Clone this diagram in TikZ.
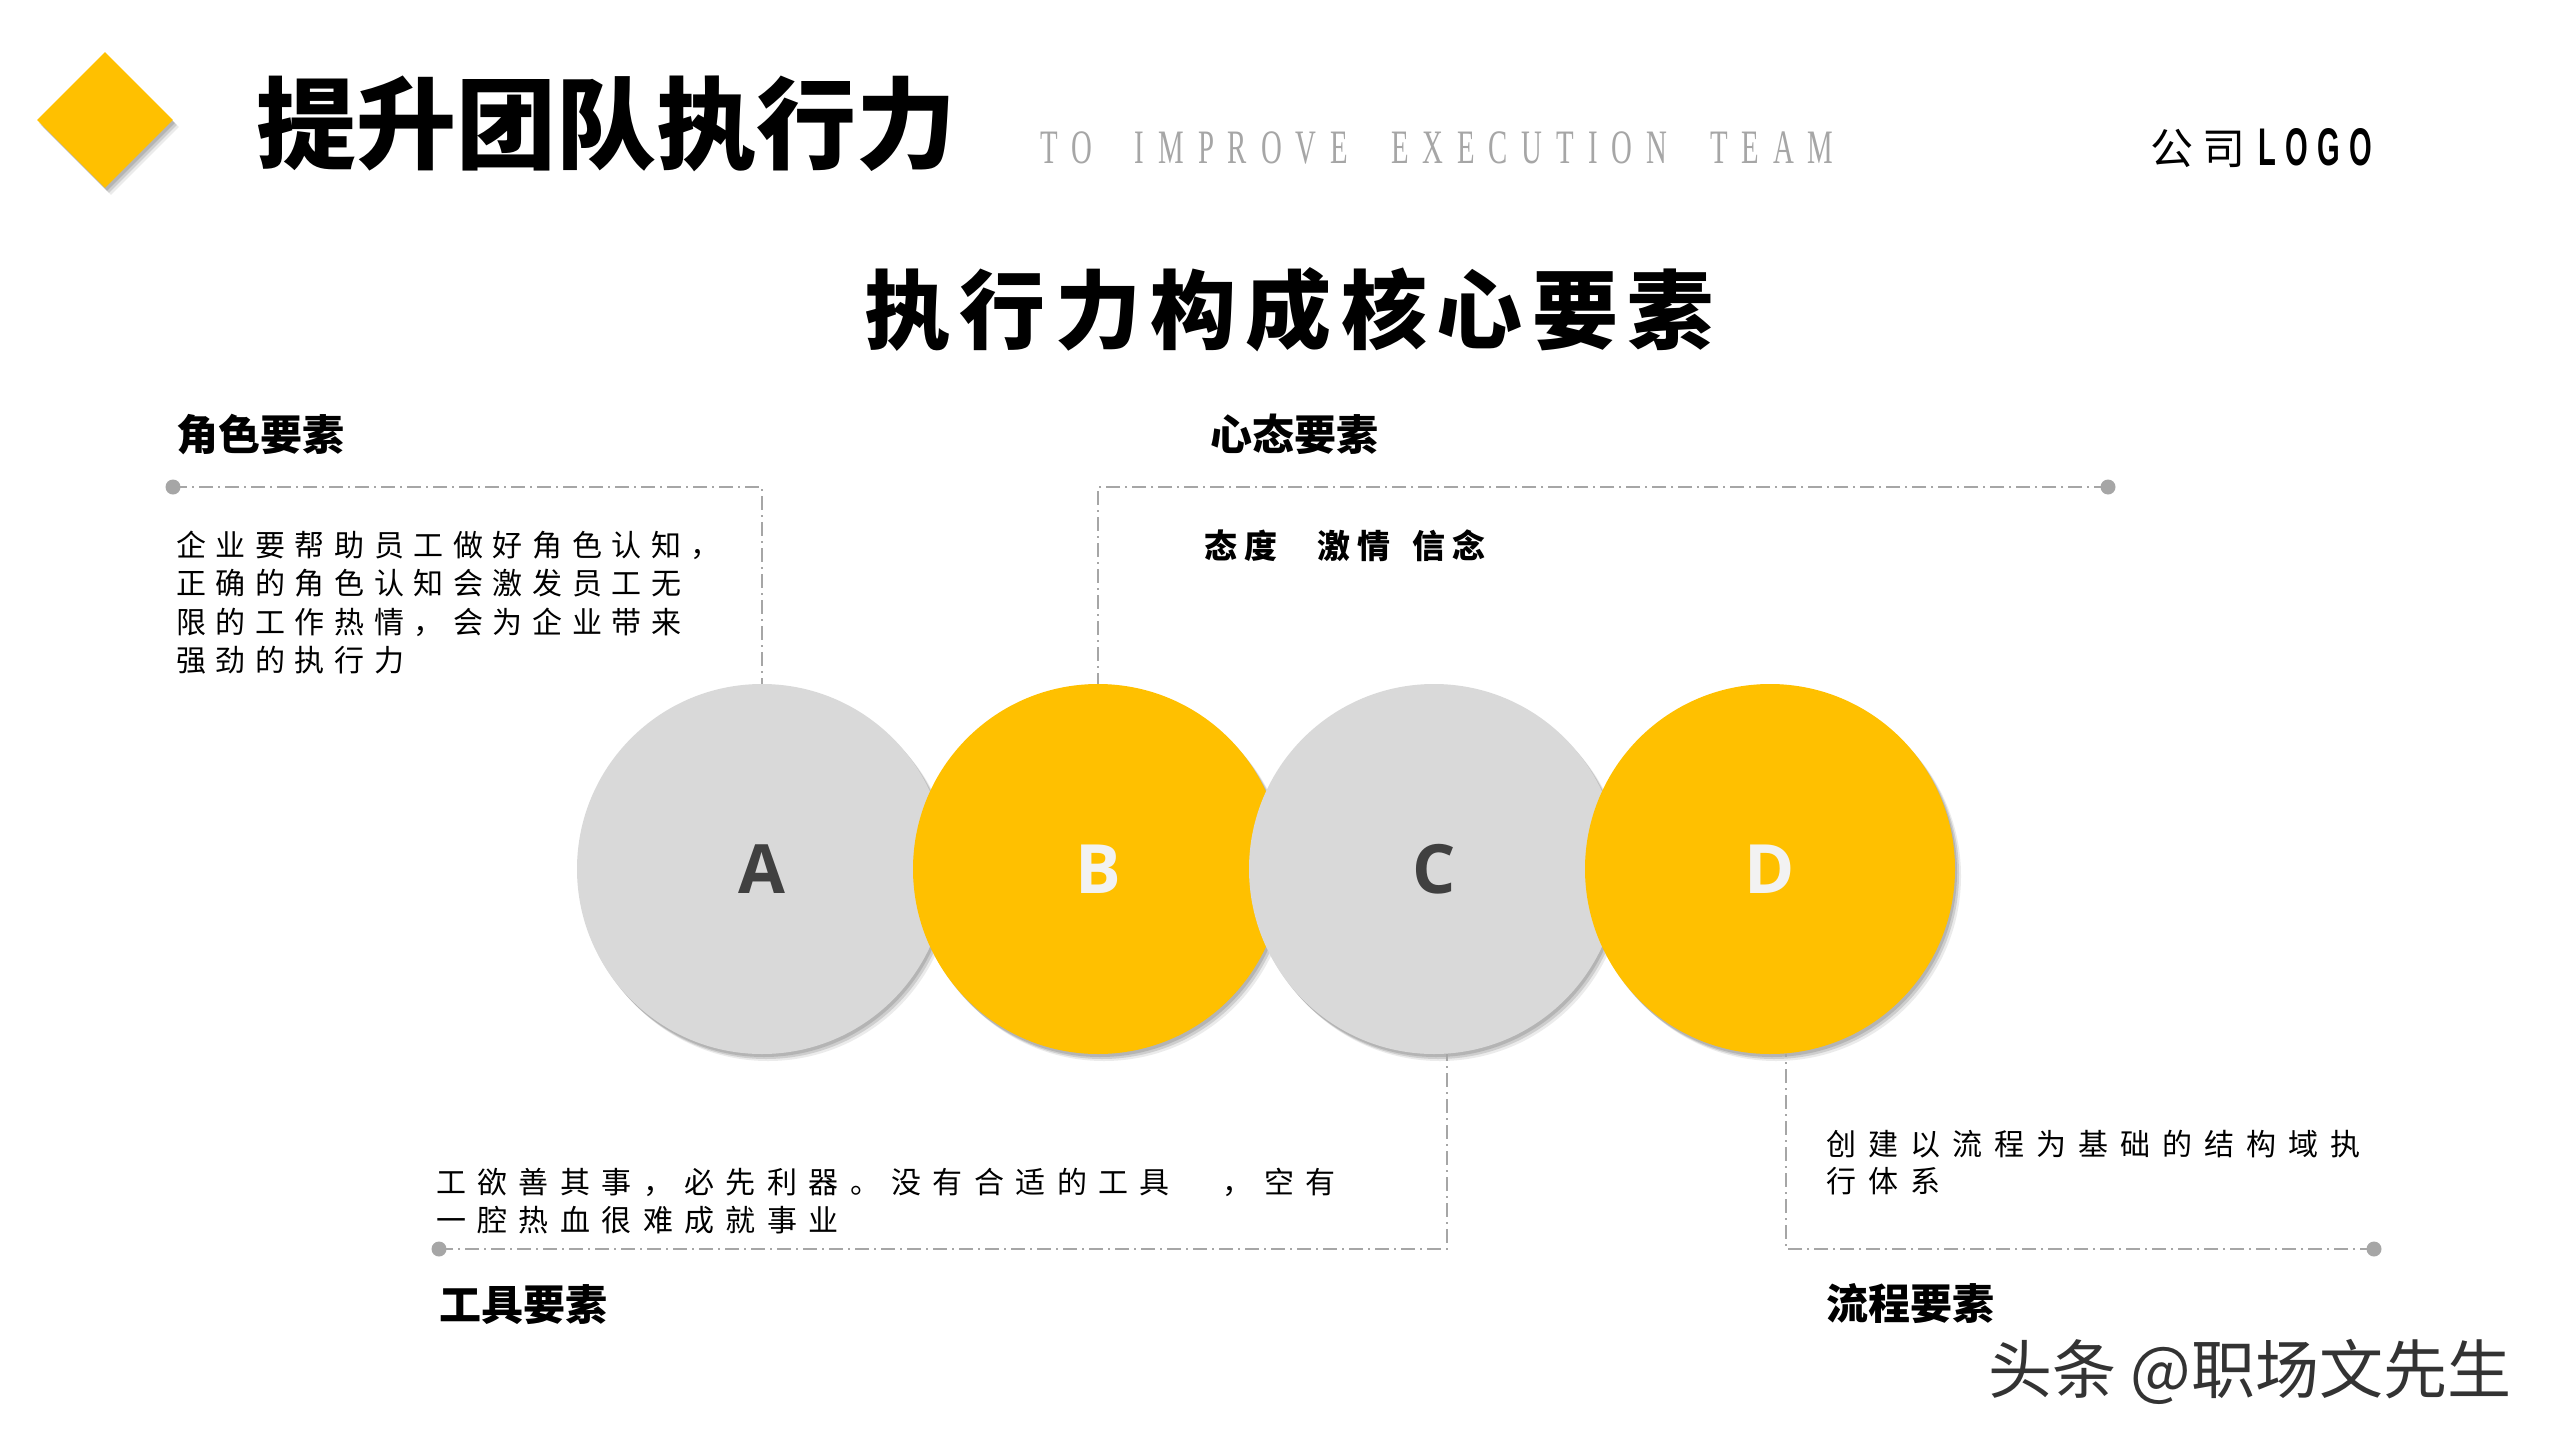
\documentclass[tikz,border=0pt]{standalone}
\usepackage{fontspec}
\usetikzlibrary{shapes.geometric,shadows}
\newfontfamily\cjk{Noto Sans CJK SC}
\newfontfamily\cjkA[LetterSpace=32]{Noto Sans CJK SC}
\newfontfamily\cjkB[LetterSpace=38]{Noto Sans CJK SC}
\newfontfamily\cjkC[LetterSpace=40]{Noto Sans CJK SC}
\newfontfamily\cjkT[LetterSpace=11]{Noto Sans CJK SC}
\newfontfamily\cjkS[LetterSpace=22]{Noto Sans CJK SC}
\newfontfamily\cjkL[LetterSpace=22]{Noto Sans CJK SC}
\newfontfamily\ensub[FakeStretch=0.6,LetterSpace=29]{Liberation Serif}
\newfontfamily\letterfont{Open Sans}
\newfontfamily\logofont[FakeStretch=0.55,LetterSpace=18]{Liberation Sans}
\definecolor{ygold}{HTML}{FFC000}
\definecolor{lgray}{HTML}{D9D9D9}
\definecolor{lineg}{HTML}{A6A6A6}
\definecolor{dtext}{HTML}{404040}
\definecolor{wtext}{HTML}{F2F2F2}
\definecolor{wmark}{HTML}{333333}
\begin{document}
\begin{tikzpicture}[x=1pt,y=-1pt,
  txt/.style={inner sep=0pt, anchor=base west, align=left, text width=700pt},
  line1/.style={inner sep=0pt, anchor=base west},
  softshadow/.style={
    drop shadow={shadow xshift=2pt, shadow yshift=-3pt, opacity=0.12, fill=black},
    drop shadow={shadow xshift=4pt, shadow yshift=-5pt, opacity=0.12, fill=black},
    drop shadow={shadow xshift=6pt, shadow yshift=-7pt, opacity=0.08, fill=black}},
  ball/.style={circle, minimum size=370pt, inner sep=0pt, softshadow},
  dline/.style={draw=lineg, line width=2pt, dash pattern=on 14pt off 5pt on 2pt off 5pt},
  enddot/.style={circle, fill=lineg, minimum size=15pt, inner sep=0pt},
  head/.style={txt, font=\cjk\bfseries\fontsize{42}{46}\selectfont},
  lettr/.style={font=\letterfont\bfseries\fontsize{68}{70}\selectfont}
]
\useasboundingbox[fill=white] (0,0) rectangle (2560,1440);

% header
\node[diamond, fill=ygold, minimum width=136pt, minimum height=136pt, inner sep=0pt, softshadow] (logo) at (105,120) {};
\node[line1, font=\cjk\bfseries\fontsize{100}{100}\selectfont] (title) at (256,161) {提升团队执行力};
\node[line1, text=lineg, font=\ensub\fontsize{48}{50}\selectfont] (subtitle) at (1040,163)
  {TO\hspace{43pt}IMPROVE\hspace{43pt}EXECUTION\hspace{43pt}TEAM};
\node[line1, font=\cjkL\fontsize{43}{44}\selectfont] (company) at (2150,164) {公司};
\node[line1, font=\logofont\bfseries\fontsize{53}{56}\selectfont] (logotext) at (2258,165) {LOGO};
\node[line1, font=\cjkT\bfseries\fontsize{86}{90}\selectfont] (main) at (864,342) {执行力构成核心要素};

% coordinates for dots
\coordinate (dotA) at (173,487);
\coordinate (dotB) at (2108,487);
\coordinate (dotC) at (439,1249);
\coordinate (dotD) at (2374,1249);

% balls
\node[ball, fill=lgray] (A) at (762,869) {};
\node[ball, fill=ygold] (B) at (1098,869) {};
\node[ball, fill=lgray] (C) at (1434,869) {};
\node[ball, fill=ygold] (D) at (1770,869) {};
\node[lettr, text=dtext] (la) at (A) {A};
\node[lettr, text=wtext] (lb) at (B) {B};
\node[lettr, text=dtext] (lc) at (C) {C};
\node[lettr, text=wtext] (ld) at (D) {D};

% connectors
\draw[dline] (dotA) -| (A.north);
\draw[dline] (dotB) -| (B.north);
\draw[dline] (dotC) -| (C.-86);
\draw[dline] (dotD) -| (D.-85);
\node[enddot] (eA) at (dotA) {};
\node[enddot] (eB) at (dotB) {};
\node[enddot] (eC) at (dotC) {};
\node[enddot] (eD) at (dotD) {};

% section texts
\node[head] (hA) at (176,450) {角色要素};
\node[head] (hB) at (1210,450) {心态要素};
\node[head] (hC) at (439,1320) {工具要素};
\node[head] (hD) at (1826,1319) {流程要素};

\node[txt, font=\cjkA\fontsize{30}{38.5}\selectfont] (tA) at (176,556)
  {企业要帮助员工做好角色认知，\\正确的角色认知会激发员工无\\限的工作热情，会为企业带来\\强劲的执行力};
\node[line1, font=\cjkS\bfseries\fontsize{33}{34}\selectfont] (tB) at (1204,558)
  {态度\hspace{40pt}激情\hspace{22pt}信念};
\node[txt, font=\cjkB\fontsize{30}{38}\selectfont] (tC) at (436,1193)
  {工欲善其事，必先利器。没有合适的工具　，空有\\一腔热血很难成就事业};
\node[txt, font=\cjkC\fontsize{30}{37.5}\selectfont] (tD) at (1826,1155)
  {创建以流程为基础的结构域执\\行体系};

% watermark
\node[line1, text=wmark, font=\cjk\fontsize{64}{70}\selectfont] (wm) at (1988,1393) {头条 @职场文先生};
\end{tikzpicture}
\end{document}
